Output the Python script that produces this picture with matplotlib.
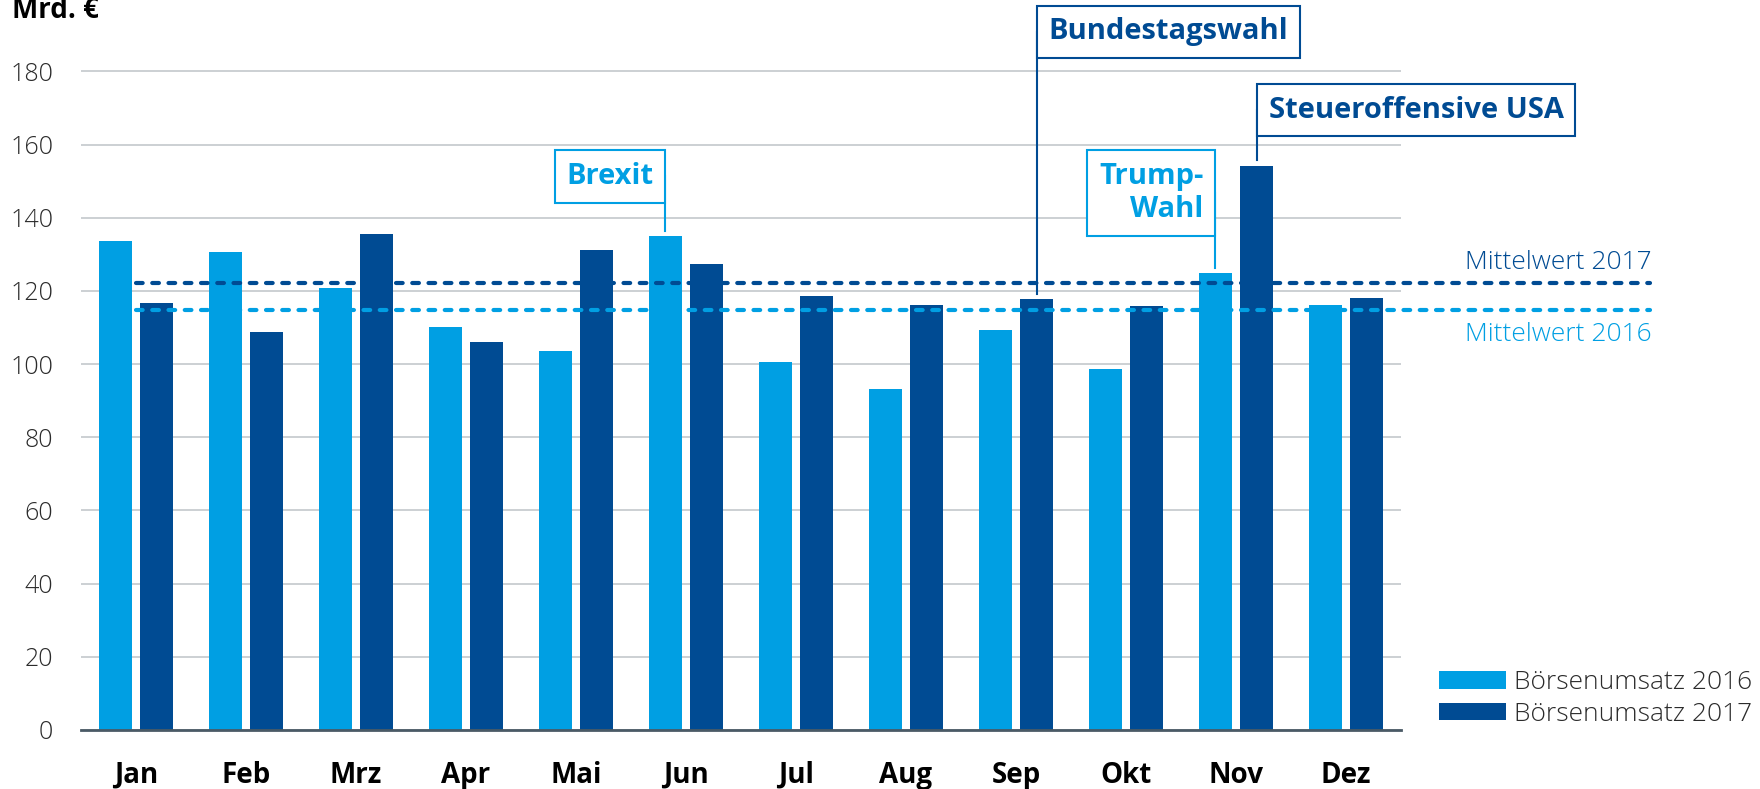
import numpy as np
import matplotlib.pyplot as plt
from matplotlib.patches import Patch

plt.rcParams['font.family'] = ['Open Sans', 'DejaVu Sans']

months = ['Jan', 'Feb', 'Mrz', 'Apr', 'Mai', 'Jun', 'Jul', 'Aug', 'Sep', 'Okt', 'Nov', 'Dez']
umsatz_2016 = [133.7, 130.6, 120.8, 110.1, 103.6, 134.9, 100.6, 93.2, 109.2, 98.7, 124.8, 116.2]
umsatz_2017 = [116.8, 108.9, 135.5, 106.1, 131.2, 127.3, 118.7, 116.2, 117.8, 115.9, 154.2, 118.1]
yticks = [0, 20, 40, 60, 80, 100, 120, 140, 160, 180]

# events: (text, month index, series, box center y, side of box)
events = [('Brexit', 5, 2016, 151.3, 'right'),
          ('Bundestagswahl', 8, 2017, 190.8, 'left'),
          ('Trump-\nWahl', 10, 2016, 146.7, 'right'),
          ('Steueroffensive USA', 10, 2017, 169.4, 'left')]

light = '#009FE3'
dark = '#004B93'
grid_c = '#BEC3C7'
text_c = '#2B2B2B'

fig = plt.figure(figsize=(17.6, 7.89), dpi=100)
ax = fig.add_axes([0.046, 0.0748, 0.75, 0.8393])

x = np.arange(len(months))
off = 0.19
w = 0.30
ax.bar(x - off, umsatz_2016, w, color=light, zorder=2)
ax.bar(x + off, umsatz_2017, w, color=dark, zorder=2)

ax.set_xlim(-0.5, 11.5)
ax.set_ylim(0, 181)
ax.set_yticks(yticks)
ax.set_xticks(x)
ax.set_xticklabels(months, fontsize=20, fontweight='bold', color='black')
ax.tick_params(axis='x', length=0, pad=22)
ax.tick_params(axis='y', length=0, pad=20, labelsize=18, labelcolor=text_c)
for lab in ax.get_yticklabels():
    lab.set_fontweight('light')
ax.yaxis.grid(True, color=grid_c, linewidth=1.1, zorder=0)
ax.set_axisbelow(True)
for s in ['top', 'right', 'left']:
    ax.spines[s].set_visible(False)
ax.spines['bottom'].set_color('#4A5A66')
ax.spines['bottom'].set_linewidth(2)
ax.spines['bottom'].set_zorder(3)

mean16 = np.mean(umsatz_2016)
mean17 = np.mean(umsatz_2017)
for m, c in [(mean17, dark), (mean16, light)]:
    ln, = ax.plot([0, 13.76], [m, m], color=c, linewidth=3.0, clip_on=False,
                  dash_capstyle='round', zorder=4)
    ln.set_dashes((1.6, 2.3))
ax.text(13.78, mean17 + 3.8, 'Mittelwert 2017', ha='right', va='baseline',
        fontsize=19, fontweight='light', color=dark, clip_on=False)
ax.text(13.78, mean16 - 8.5, 'Mittelwert 2016', ha='right', va='baseline',
        fontsize=19, fontweight='light', color=light, clip_on=False)

fs = 21
pad = 0.4
for txt, mi, yr, by, side in events:
    if yr == 2016:
        bx = mi - off
        val = umsatz_2016[mi]
        c = light
    else:
        bx = mi + off
        val = umsatz_2017[mi]
        c = dark
    ax.plot([bx, bx], [val + 1.5, by], color=c, linewidth=1.5, clip_on=False, zorder=5)
    sgn = -1 if side == 'right' else 1
    ax.annotate(txt, xy=(bx, by), xytext=(sgn * pad * fs, 0), textcoords='offset points',
                ha=side, va='center', multialignment='right', fontsize=fs,
                fontweight='bold', color=c, annotation_clip=False, zorder=6,
                linespacing=1.2,
                bbox=dict(boxstyle='square,pad=%s' % pad, facecolor='white',
                          edgecolor=c, linewidth=1.5))

handles = [Patch(facecolor=light), Patch(facecolor=dark)]
fig.legend(handles, ['Börsenumsatz 2016', 'Börsenumsatz 2017'], loc='center left',
           bbox_to_anchor=(0.8176, 0.1147), frameon=False,
           handlelength=2.55, handleheight=0.64, handletextpad=0.3,
           labelspacing=0.25, borderpad=0, borderaxespad=0,
           prop={'weight': 'light', 'size': 19}, labelcolor=text_c)

fig.text(12 / 1760, 1 - 18 / 789, 'Mrd. €', fontsize=20, fontweight='bold',
         color='black', va='baseline', ha='left')

fig.savefig('out.png', dpi=100)
